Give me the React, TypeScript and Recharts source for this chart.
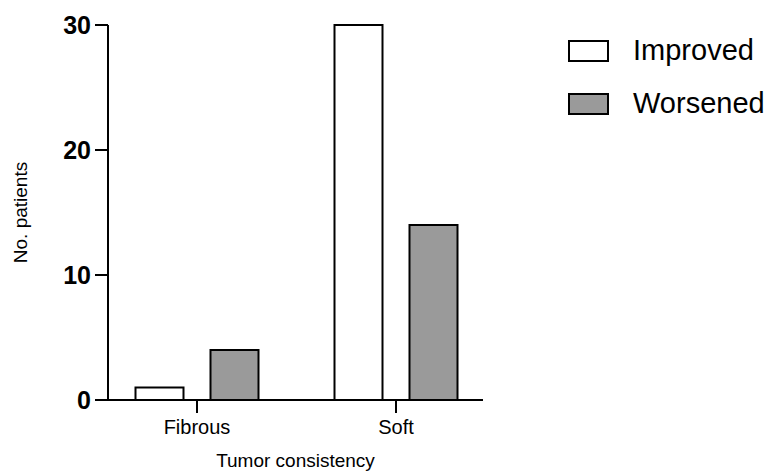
import React from 'react';
import { BarChart, Bar, XAxis, YAxis, Legend } from 'recharts';

const categories = ['Fibrous', 'Soft'];
const improved = [1, 30];
const worsened = [4, 14];
const yTicks = [0, 10, 20, 30];
const seriesNames = ['Improved', 'Worsened'];
const seriesColors = ['#ffffff', '#9a9a9a'];
const xTitle = 'Tumor consistency';
const yTitle = 'No. patients';

const data = categories.map((c, i) => ({ category: c, Improved: improved[i], Worsened: worsened[i] }));

const FONT = '"Liberation Sans", Arial, Helvetica, sans-serif';

const renderLegend = () => (
  <div style={{ fontFamily: FONT }}>
    {seriesNames.map((n, i) => (
      <div
        key={n}
        style={{ display: 'flex', alignItems: 'center', height: 22, marginBottom: i === 0 ? 31 : 0 }}
      >
        <div
          style={{
            width: 41,
            height: 22,
            boxSizing: 'border-box',
            border: '2px solid #000',
            background: seriesColors[i],
          }}
        />
        <span
          style={{ marginLeft: 24, fontSize: 29, lineHeight: '22px', color: '#000', whiteSpace: 'nowrap', position: 'relative', top: -1 }}
        >
          {n}
        </span>
      </div>
    ))}
  </div>
);

const YLabel = (props: any) => {
  const vb = props.viewBox || {};
  const x = (vb.x || 0) + 27;
  const y = (vb.y || 0) + (vb.height || 0) / 2;
  return (
    <text
      x={x}
      y={y}
      transform={`rotate(-90 ${x} ${y})`}
      textAnchor="middle"
      fontFamily={FONT}
      fontSize={19}
      fill="#000"
    >
      {yTitle}
    </text>
  );
};

export default function App() {
  return (
    <div style={{ position: 'absolute', left: 0, top: 0, fontFamily: FONT }}>
      <BarChart
        width={771}
        height={471}
        data={data}
        margin={{ top: 25, right: 288, left: 0, bottom: 0 }}
        barGap={27}
        barSize={48}
      >
        <XAxis
          dataKey="category"
          height={71}
          padding={{ left: -10.5, right: -12.5 }}
          axisLine={{ stroke: '#000', strokeWidth: 2 }}
          tickLine={{ stroke: '#000', strokeWidth: 2 }}
          tickSize={13}
          tickMargin={7}
          tick={{ fontSize: 20, fill: '#000', fontFamily: FONT }}
          label={{ value: xTitle, position: 'insideBottom', offset: 4, fontSize: 19, fill: '#000', fontFamily: FONT }}
        />
        <YAxis
          width={108}
          domain={[0, 30]}
          ticks={yTicks}
          interval={0}
          axisLine={{ stroke: '#000', strokeWidth: 2 }}
          tickLine={{ stroke: '#000', strokeWidth: 2 }}
          tickSize={13}
          tickMargin={4}
          tick={{ fontSize: 25, fontWeight: 'bold', fill: '#000', fontFamily: FONT }}
          label={<YLabel />}
        />
        <Legend
          content={renderLegend}
          layout="horizontal"
          align="center"
          verticalAlign="middle"
          wrapperStyle={{ left: 568, top: 40, width: 'auto', height: 'auto' }}
        />
        <Bar dataKey="Improved" fill={seriesColors[0]} stroke="#000" strokeWidth={2} isAnimationActive={false} />
        <Bar dataKey="Worsened" fill={seriesColors[1]} stroke="#000" strokeWidth={2} isAnimationActive={false} />
      </BarChart>
    </div>
  );
}
